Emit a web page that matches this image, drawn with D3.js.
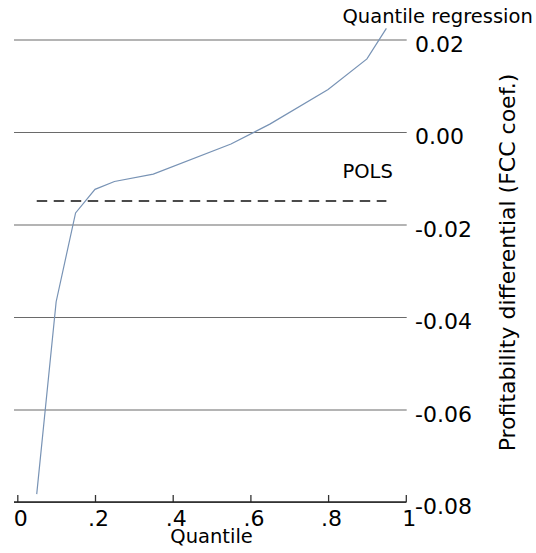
<!DOCTYPE html>
<html>
<head>
<meta charset="utf-8">
<script src="https://cdn.jsdelivr.net/npm/d3@7"></script>
<style>
  body { margin: 0; background: #fff; }
  svg { display: block; font-family: "DejaVu Sans", sans-serif; }
</style>
</head>
<body>
<svg id="chart" width="536" height="553"></svg>
<script>
// Quantile regression estimates
const quantiles = [0.05, 0.10, 0.15, 0.20, 0.25, 0.35, 0.55, 0.65, 0.80, 0.90, 0.95];
const coefs = [-0.0783, -0.0367, -0.0175, -0.0124, -0.0107, -0.0091, -0.0026, 0.0017, 0.0092, 0.0158, 0.0224];

// Pooled OLS estimate, drawn over the same quantile span
const polsValue = -0.0149;
const polsSpan = [0.05, 0.95];

const xTicks = [0, 0.2, 0.4, 0.6, 0.8, 1];
const yTicks = [0.02, 0, -0.02, -0.04, -0.06, -0.08];

const svg = d3.select('#chart');

const x = d3.scaleLinear().domain([0, 1]).range([17.3, 405.8]);
const y = d3.scaleLinear().domain([-0.08, 0.02]).range([502, 39.5]);

const gridLeft = 14, gridRight = 406.7;

// Horizontal gridlines + right-hand labels
const yAxis = svg.append('g')
    .attr('transform', `translate(${gridRight},0)`)
    .call(d3.axisRight(y)
        .tickValues(yTicks)
        .tickSize(-(gridRight - gridLeft))
        .tickPadding(8.3)
        .tickFormat(d3.format('.2f')));

yAxis.select('.domain').remove();
yAxis.selectAll('line')
    .attr('stroke', '#6a6a6a')
    .attr('stroke-width', 1.1);
yAxis.selectAll('text')
    .attr('dy', 11.5)
    .attr('fill', '#000')
    .style('font-family', '"DejaVu Sans", sans-serif')
    .style('font-size', '22px')
    .text(d => d3.format('.2f')(d).replace('−', '-'));

// Bottom axis with upward ticks
const xAxis = svg.append('g')
    .attr('transform', `translate(0,${y(-0.08)})`)
    .call(d3.axisBottom(x)
        .tickValues(xTicks)
        .tickSizeInner(-7)
        .tickSizeOuter(0)
        .tickFormat(d => d === 0 ? '0' : d === 1 ? '1' : String(d).replace(/^0/, '')));

xAxis.select('.domain').remove();
xAxis.append('line')
    .attr('x1', gridLeft).attr('x2', gridRight - 0.7)
    .attr('y1', 0).attr('y2', 0)
    .attr('stroke', '#222')
    .attr('stroke-width', 1.5);
xAxis.selectAll('.tick line')
    .attr('stroke', '#333')
    .attr('stroke-width', 1.3);
xAxis.selectAll('.tick text')
    .attr('y', 24)
    .attr('dy', 0)
    .attr('dx', 3)
    .attr('fill', '#000')
    .style('font-family', '"DejaVu Sans", sans-serif')
    .style('font-size', '22px');

// POLS dashed reference
svg.append('line')
    .attr('x1', x(polsSpan[0])).attr('x2', x(polsSpan[1]))
    .attr('y1', y(polsValue)).attr('y2', y(polsValue))
    .attr('stroke', '#111')
    .attr('stroke-width', 1.5)
    .attr('stroke-dasharray', '10.5,6.5');

// Quantile regression line
const line = d3.line()
    .x((d, i) => x(quantiles[i]))
    .y(d => y(d));

svg.append('path')
    .datum(coefs)
    .attr('d', line)
    .attr('fill', 'none')
    .attr('stroke', '#7893b5')
    .attr('stroke-width', 1.2);

// Labels
svg.append('text')
    .attr('x', 342.5).attr('y', 23.3)
    .style('font-size', '19.5px')
    .text('Quantile regression');

svg.append('text')
    .attr('x', 342.5).attr('y', 178.3)
    .style('font-size', '19.5px')
    .text('POLS');

svg.append('text')
    .attr('x', (x(0) + x(1)) / 2).attr('y', 542.7)
    .attr('text-anchor', 'middle')
    .style('font-size', '19.5px')
    .text('Quantile');

svg.append('text')
    .attr('transform', 'translate(515,262.5) rotate(-90)')
    .attr('text-anchor', 'middle')
    .style('font-size', '22px')
    .text('Profitability differential (FCC coef.)');
</script>
</body>
</html>
